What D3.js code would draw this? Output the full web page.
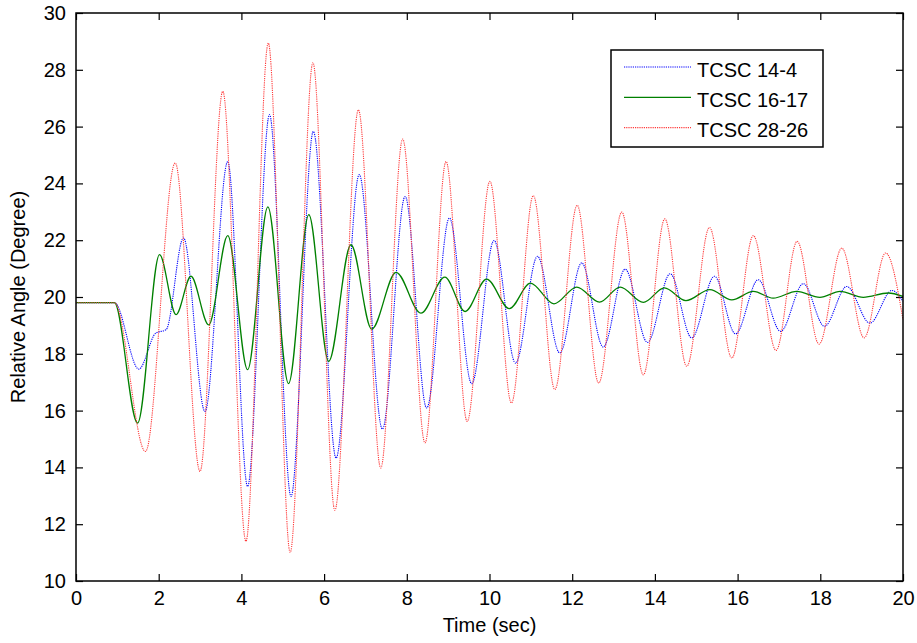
<!DOCTYPE html>
<html>
<head>
<meta charset="utf-8">
<script src="https://cdn.jsdelivr.net/npm/d3@7"></script>
<style>
  html, body { margin: 0; padding: 0; background: #fff; }
  svg text { font-family: Arial, "Liberation Sans", Helvetica, sans-serif; fill: #000; }
</style>
</head>
<body>
<div id="chart"></div>
<script>
// time (sec) / relative angle (deg)
const timeBlue = [0, 0.93, 1.52, 1.93, 2.18, 2.60, 3.12, 3.67, 4.15, 4.68, 5.20, 5.74, 6.29, 6.85, 7.41, 7.96,
  8.48, 9.03, 9.57, 10.11, 10.63, 11.16, 11.70, 12.23, 12.75, 13.28, 13.82, 14.37, 14.89, 15.44, 15.95,
  16.50, 17.04, 17.59, 18.10, 18.64, 19.20, 19.73, 20.0];
const angleBlue = [19.8, 19.8, 17.46, 18.73, 18.85, 22.08, 15.97, 24.77, 13.33, 26.42, 12.98, 25.83, 14.33,
  24.31, 15.35, 23.54, 16.09, 22.78, 16.95, 21.99, 17.67, 21.43, 18.03, 21.20, 18.24, 20.98, 18.40, 20.82,
  18.56, 20.73, 18.70, 20.61, 18.79, 20.47, 18.97, 20.37, 19.08, 20.23, 19.85];

const timeGreen = [0, 0.93, 1.49, 2.02, 2.42, 2.78, 3.21, 3.67, 4.15, 4.64, 5.14, 5.63, 6.11, 6.65, 7.15, 7.74,
  8.34, 8.92, 9.41, 9.93, 10.48, 10.99, 11.56, 12.11, 12.66, 13.16, 13.72, 14.23, 14.75, 15.33, 15.86,
  16.38, 16.86, 17.43, 17.99, 18.48, 19.04, 19.64, 20.0];
const angleGreen = [19.8, 19.8, 15.56, 21.49, 19.38, 20.73, 19.02, 22.16, 17.44, 23.17, 16.95, 22.90, 17.73,
  21.84, 18.87, 20.87, 19.43, 20.70, 19.49, 20.63, 19.59, 20.49, 19.76, 20.35, 19.82, 20.35, 19.81, 20.32,
  19.87, 20.26, 19.90, 20.20, 19.96, 20.20, 19.99, 20.20, 19.99, 20.14, 20.02];

const timeRed = [0, 0.93, 1.68, 2.40, 3.00, 3.55, 4.11, 4.65, 5.18, 5.73, 6.26, 6.83, 7.37, 7.90, 8.44, 8.95,
  9.46, 10.01, 10.53, 11.06, 11.58, 12.12, 12.64, 13.20, 13.72, 14.24, 14.77, 15.32, 15.86, 16.38, 16.93,
  17.44, 17.97, 18.52, 19.06, 19.58, 20.0];
const angleRed = [19.8, 19.8, 14.56, 24.72, 13.86, 27.24, 11.4, 28.94, 11.01, 28.25, 12.49, 26.59, 13.98,
  25.56, 14.86, 24.77, 15.62, 24.07, 16.27, 23.57, 16.74, 23.23, 16.97, 22.99, 17.26, 22.75, 17.56, 22.45,
  17.85, 22.16, 18.12, 21.96, 18.34, 21.72, 18.56, 21.55, 19.2];

const seriesNames = ['TCSC 14-4', 'TCSC 16-17', 'TCSC 28-26'];
const xTicks = [0, 2, 4, 6, 8, 10, 12, 14, 16, 18, 20];
const yTicks = [10, 12, 14, 16, 18, 20, 22, 24, 26, 28, 30];

const width = 917,
  height = 643,
  margin = {left: 76, right: 14, top: 13, bottom: 62},
  tickLen = 7;

const series = [
  {name: seriesNames[0], t: timeBlue, v: angleBlue, stroke: '#0000ff', dash: '1.2 1', width: 1.1},
  {name: seriesNames[1], t: timeGreen, v: angleGreen, stroke: '#008000', dash: null, width: 1.3},
  {name: seriesNames[2], t: timeRed, v: angleRed, stroke: '#ff3b3b', dash: '1.2 1', width: 1.1}
];

const svg = d3.select('#chart').append('svg')
  .attr('width', width)
  .attr('height', height);

const x = d3.scaleLinear().domain([0, 20]).range([margin.left, width - margin.right]);
const y = d3.scaleLinear().domain([10, 30]).range([height - margin.bottom, margin.top]);

// axes, ticks pointing inward on all four sides
const axisFont = g => g.selectAll('text').style('font-size', '20px');

svg.append('g')
  .attr('transform', 'translate(0,' + y(10) + ')')
  .call(d3.axisBottom(x).tickValues(xTicks).tickSize(-tickLen).tickPadding(10).tickFormat(d3.format('d')))
  .call(axisFont);

svg.append('g')
  .attr('transform', 'translate(0,' + y(30) + ')')
  .call(d3.axisTop(x).tickValues(xTicks).tickSize(-tickLen).tickFormat(''));

svg.append('g')
  .attr('transform', 'translate(' + x(0) + ',0)')
  .call(d3.axisLeft(y).tickValues(yTicks).tickSize(-tickLen).tickPadding(10).tickFormat(d3.format('d')))
  .call(axisFont);

svg.append('g')
  .attr('transform', 'translate(' + x(20) + ',0)')
  .call(d3.axisRight(y).tickValues(yTicks).tickSize(-tickLen).tickFormat(''));

svg.selectAll('.domain').remove();
svg.selectAll('.tick line').attr('stroke', '#000').attr('stroke-width', 1.2);

// data lines
const line = d3.line()
  .curve(d3.curveMonotoneX)
  .x(d => x(d[0]))
  .y(d => y(d[1]));

const plot = svg.append('g');
series.forEach(s => {
  plot.append('path')
    .datum(d3.zip(s.t, s.v))
    .attr('fill', 'none')
    .attr('stroke', s.stroke)
    .attr('stroke-width', s.width)
    .attr('stroke-dasharray', s.dash)
    .attr('d', line);
});

// box
svg.append('rect')
  .attr('x', x(0))
  .attr('y', y(30))
  .attr('width', x(20) - x(0))
  .attr('height', y(10) - y(30))
  .attr('fill', 'none')
  .attr('stroke', '#000')
  .attr('stroke-width', 1.5);

// axis labels
svg.append('text')
  .attr('x', (x(0) + x(20)) / 2)
  .attr('y', 632)
  .attr('text-anchor', 'middle')
  .style('font-size', '20px')
  .text('Time (sec)');

svg.append('text')
  .attr('transform', 'translate(25,' + (y(10) + y(30)) / 2 + ') rotate(-90)')
  .attr('text-anchor', 'middle')
  .style('font-size', '20px')
  .text('Relative Angle (Degree)');

// legend
const legend = svg.append('g').attr('transform', 'translate(611,50)');
legend.append('rect')
  .attr('width', 212)
  .attr('height', 97)
  .attr('fill', '#fff')
  .attr('stroke', '#000')
  .attr('stroke-width', 1.5);

series.forEach((s, i) => {
  const ly = 17 + i * 30.3;
  legend.append('line')
    .attr('x1', 13).attr('x2', 80)
    .attr('y1', ly).attr('y2', ly)
    .attr('stroke', s.stroke)
    .attr('stroke-width', s.width)
    .attr('stroke-dasharray', s.dash);
  legend.append('text')
    .attr('x', 86)
    .attr('y', ly + 9.5)
    .style('font-size', '20px')
    .text(s.name);
});
</script>
</body>
</html>
